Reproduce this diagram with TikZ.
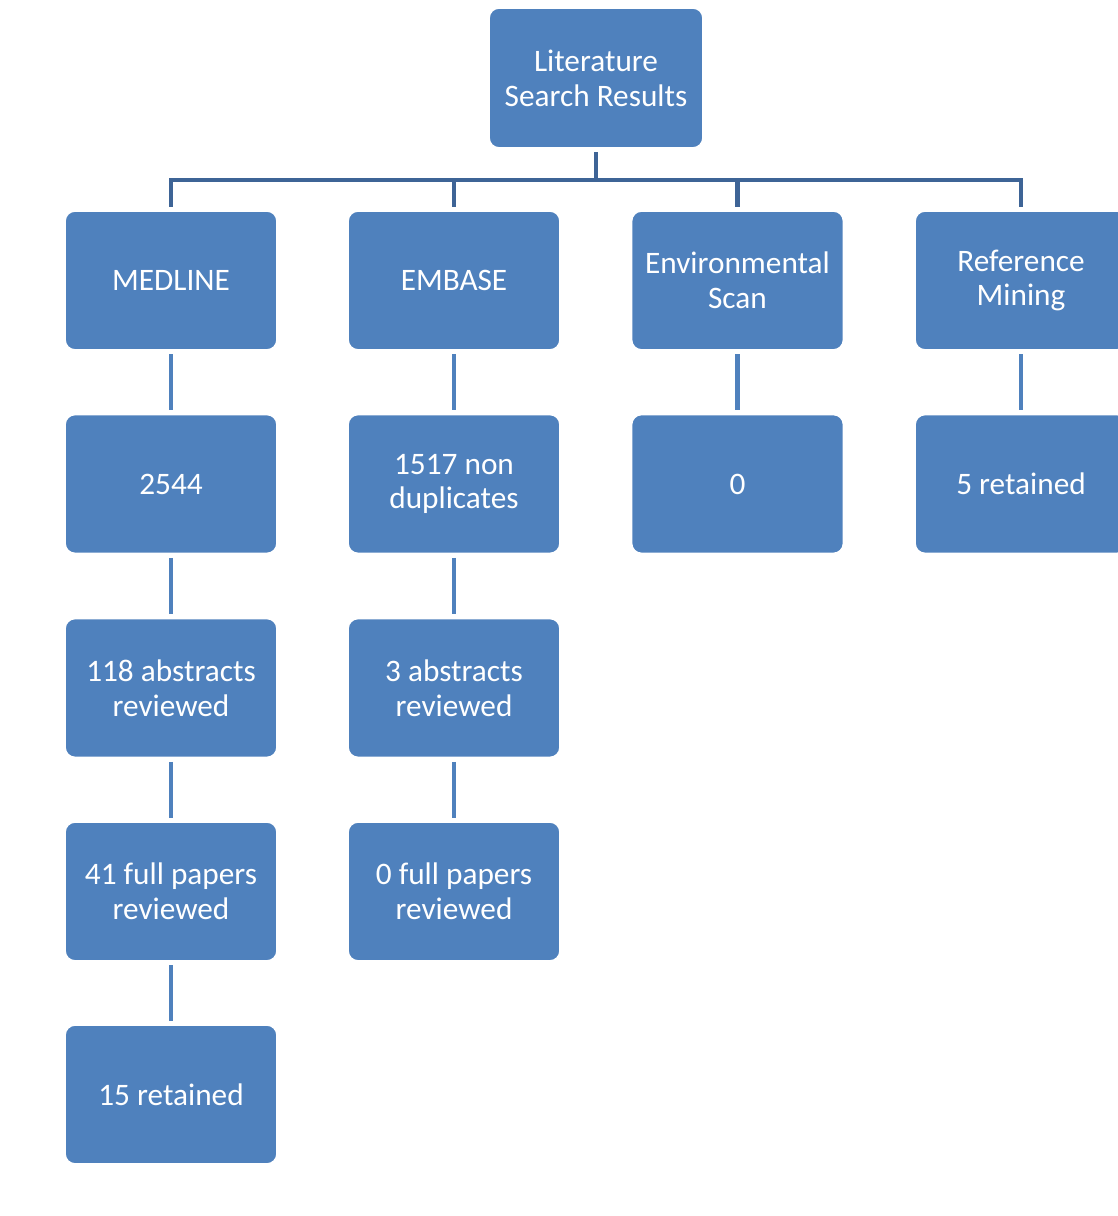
\documentclass[tikz,border=0pt]{standalone}
\usepackage{fontspec}
\setmainfont{Carlito}
\usepackage{tikz}
\usetikzlibrary{positioning}
\definecolor{boxblue}{RGB}{79,129,189}
\definecolor{treeblue}{RGB}{62,100,150}
\tikzset{
  stage/.style={rectangle, rounded corners=0.1cm, fill=boxblue, draw=white, line width=0.5pt,
    minimum width=2.12cm, minimum height=1.39cm, inner sep=0pt, text=white, align=center,
    font=\fontsize{8.9}{9.9}\selectfont},
  tree/.style={draw=treeblue, line width=1.2pt, shorten >=0.9pt, shorten <=0.9pt},
  link/.style={draw=boxblue, line width=1.2pt, shorten >=1pt, shorten <=1pt}
}
\begin{document}
\begin{tikzpicture}
\useasboundingbox (0,0) rectangle (11.18,12.16);
\node[stage, minimum width=2.14cm, minimum height=1.40cm] (lit) at (5.96,11.38) {Literature\\Search Results};
\node[stage] (medline) at (1.71,9.355) {MEDLINE};
\node[stage] (embase) at (4.54,9.355) {EMBASE};
\node[stage] (envscan) at (7.375,9.355) {Environmental\\Scan};
\node[stage] (refmine) at (10.21,9.355) {Reference\\Mining};
\node[stage] (medall) at (1.71,7.32) {2544};
\node[stage] (embnodup) at (4.54,7.32) {1517 non\\duplicates};
\node[stage] (envzero) at (7.375,7.32) {0};
\node[stage] (refkept) at (10.21,7.32) {5 retained};
\node[stage] (medabs) at (1.71,5.28) {118 abstracts\\reviewed};
\node[stage] (embabs) at (4.54,5.28) {3 abstracts\\reviewed};
\node[stage] (medfull) at (1.71,3.245) {41 full papers\\reviewed};
\node[stage] (embfull) at (4.54,3.245) {0 full papers\\reviewed};
\node[stage] (medkept) at (1.71,1.215) {15 retained};
% tree from the top box
\coordinate (bus) at (5.96,10.36);
\draw[tree, shorten >=0pt] (lit) -- (bus);
\foreach \n in {medline,embase,envscan,refmine}
  \draw[tree, shorten <=0pt] (bus) -| (\n);
% links down each column
\draw[link] (medline) -- (medall);
\draw[link] (medall) -- (medabs);
\draw[link] (medabs) -- (medfull);
\draw[link] (medfull) -- (medkept);
\draw[link] (embase) -- (embnodup);
\draw[link] (embnodup) -- (embabs);
\draw[link] (embabs) -- (embfull);
\draw[link] (envscan) -- (envzero);
\draw[link] (refmine) -- (refkept);
\end{tikzpicture}
\end{document}
